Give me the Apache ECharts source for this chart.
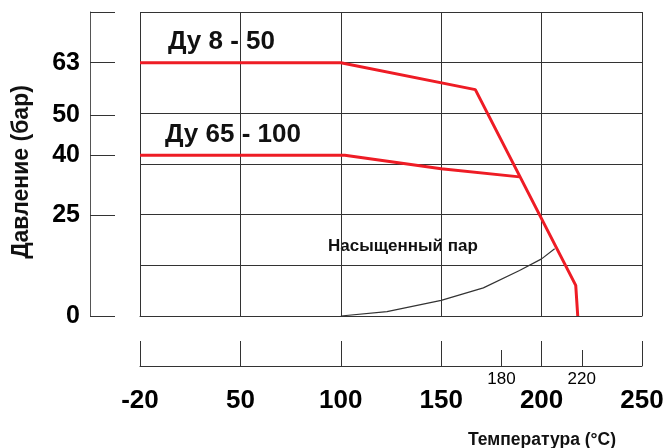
<!DOCTYPE html>
<html><head><meta charset="utf-8">
<script src="https://cdn.jsdelivr.net/npm/echarts@6/dist/echarts.min.js"></script>
<style>html,body{margin:0;padding:0;background:#fff}#c{width:671px;height:448px}</style>
</head><body><div id="c"></div>
<script>
// Tick values / labels
const xTickValues = [0, 50, 100, 150, 200, 250];
const xTickLabels = ['-20', '50', '100', '150', '200', '250'];
const xSmallTicks = [180, 220];
const yTickValues = [0, 25, 40, 50, 63];

// Series: DN 8-50
const dn8Temp = [0, 100, 167, 217, 218];
const dn8Press = [63, 63, 56.3, 7.6, 0];
// Series: DN 65-100
const dn65Temp = [0, 102, 150, 189];
const dn65Press = [40, 40, 36.6, 34.6];
// Saturated steam curve
const steamTemp = [100, 123, 150, 171, 189, 200, 206.5];
const steamPress = [0, 1.1, 3.9, 7.0, 11.3, 14.2, 16.7];

const FONT = "'Liberation Sans', Arial, sans-serif";
const pair = (xs, ys) => xs.map((x, i) => [x, ys[i]]);
const labelMap = {};
xTickValues.forEach((v, i) => labelMap[v] = xTickLabels[i]);

const chart = echarts.init(document.getElementById('c'), null, {renderer: 'canvas'});
const gridLine = {show: true, lineStyle: {color: '#333', width: 1}};
chart.setOption({
  animation: false,
  backgroundColor: '#fff',
  grid: {left: 140, right: 29, top: 12, bottom: 132, containLabel: false},
  xAxis: [
    {type: 'value', min: 0, max: 250, interval: 50,
     axisLine: {show: true, onZero: false, lineStyle: {color: '#333'}},
     axisTick: {show: false}, axisLabel: {show: false}, splitLine: gridLine},
    {type: 'value', min: 0, max: 250, interval: 50, position: 'bottom', offset: 50,
     axisLine: {show: true, onZero: false, lineStyle: {color: '#333', width: 1}},
     axisTick: {show: true, inside: true, length: 25, lineStyle: {color: '#333'}},
     axisLabel: {show: true, margin: 22, fontSize: 26, fontWeight: 'bold', color: '#000', fontFamily: FONT,
       formatter: v => labelMap[v] !== undefined ? labelMap[v] : ''},
     splitLine: {show: false}},
    {type: 'value', min: 0, max: 250, position: 'bottom', offset: 50,
     axisLine: {show: false, onZero: false},
     axisTick: {show: true, inside: true, length: 16, customValues: xSmallTicks, lineStyle: {color: '#333'}},
     axisLabel: {show: true, margin: 5, fontSize: 17, color: '#000', fontFamily: FONT, customValues: xSmallTicks},
     splitLine: {show: false}}
  ],
  yAxis: [
    {type: 'value', min: 0, max: 75.6, interval: 12.6,
     axisLine: {show: false}, axisTick: {show: false}, axisLabel: {show: false}, splitLine: gridLine},
    {type: 'value', min: 0, max: 75.6, position: 'left', offset: 50,
     axisLine: {show: true, onZero: false, lineStyle: {color: '#555', width: 1}},
     axisTick: {show: true, inside: true, length: 25, customValues: [0, 25, 40, 50, 63, 75.6], lineStyle: {color: '#333'}},
     axisLabel: {show: true, margin: 10, fontSize: 25, fontWeight: 'bold', color: '#000', fontFamily: FONT,
       customValues: yTickValues},
     splitLine: {show: false}}
  ],
  series: [
    {type: 'line', name: 'Ду 8 - 50', data: pair(dn8Temp, dn8Press), xAxisIndex: 0, yAxisIndex: 0,
     symbol: 'none', lineStyle: {color: '#ee1c25', width: 3}, z: 5},
    {type: 'line', name: 'Ду 65 - 100', data: pair(dn65Temp, dn65Press), xAxisIndex: 0, yAxisIndex: 0,
     symbol: 'none', lineStyle: {color: '#ee1c25', width: 3}, z: 5},
    {type: 'line', name: 'Насыщенный пар', data: pair(steamTemp, steamPress), xAxisIndex: 0, yAxisIndex: 0,
     symbol: 'none', lineStyle: {color: '#333', width: 1.2}, z: 4}
  ],
  graphic: [
    {type: 'text', left: 168, top: 29, style: {text: 'Ду 8 - 50', font: 'bold 26px ' + FONT, fill: '#111'}},
    {type: 'text', left: 165, top: 122, style: {text: 'Ду 65 - 100', font: 'bold 26px ' + FONT, fill: '#111'}},
    {type: 'text', left: 328, top: 238, style: {text: 'Насыщенный пар', font: 'bold 17px ' + FONT, fill: '#111'}},
    {type: 'text', x: 22, y: 172, rotation: Math.PI / 2,
     style: {text: 'Давление (бар)', font: 'bold 23px ' + FONT, fill: '#111', align: 'center', verticalAlign: 'middle'}},
    {type: 'text', x: 542, y: 440,
     style: {text: 'Температура (°C)', font: 'bold 17.5px ' + FONT, fill: '#111', align: 'center', verticalAlign: 'middle'}}
  ]
});
</script>
</body></html>
